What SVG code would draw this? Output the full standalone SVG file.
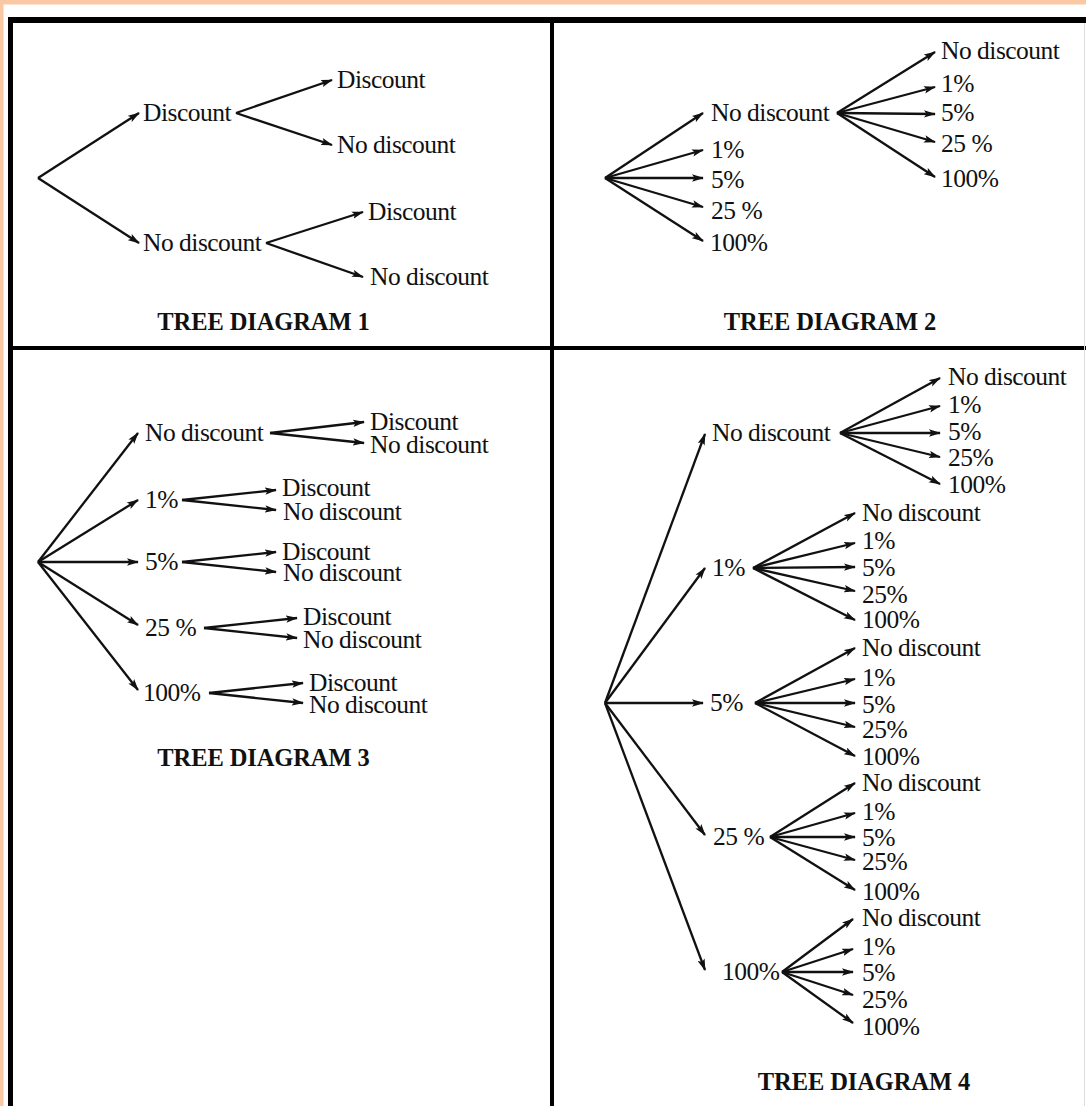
<svg xmlns="http://www.w3.org/2000/svg" width="1086" height="1106" viewBox="0 0 1086 1106">
<style>
  text { font-family: "Liberation Serif", "Times New Roman", serif; fill: #111; }
  .lbl { font-size: 25.5px; letter-spacing: -0.5px; }
  .ttl { font-size: 24.5px; font-weight: bold; text-anchor: middle; letter-spacing: -0.1px; }
  .ln { stroke: #111; stroke-width: 2.3; fill: none; marker-end: url(#ah); }
  .frame { stroke: #000; fill: none; }
</style>
<defs>
  <marker id="ah" markerUnits="userSpaceOnUse" markerWidth="12" markerHeight="8" refX="11" refY="4" orient="auto">
    <path d="M0,0.3 L12,4 L0,7.7 L2.5,4 Z" fill="#111"/>
  </marker>
</defs>
<rect x="0" y="0" width="1086" height="1106" fill="#ffffff"/>
<rect x="0" y="0" width="1086" height="4.5" fill="#fbc8a4"/>
<rect x="0" y="0" width="3.5" height="1106" fill="#fbc8a4"/>
<g id="frame">
  <line class="frame" x1="8" y1="20" x2="1086" y2="20" stroke-width="6"/>
  <line class="frame" x1="10.5" y1="17" x2="10.5" y2="1106" stroke-width="5"/>
  <line class="frame" x1="552" y1="20" x2="552" y2="1106" stroke-width="4"/>
  <line class="frame" x1="10" y1="348" x2="1086" y2="348" stroke-width="4"/>
  <line x1="1084.5" y1="23" x2="1084.5" y2="1106" stroke="#dddddd" stroke-width="1"/>
</g>

<g id="connectors">
  <!-- Tree 1 -->
  <line class="ln" x1="38" y1="178" x2="139" y2="113"/>
  <line class="ln" x1="38" y1="178" x2="139" y2="243"/>
  <line class="ln" x1="236" y1="113" x2="332" y2="80"/>
  <line class="ln" x1="236" y1="113" x2="332" y2="145"/>
  <line class="ln" x1="266" y1="243" x2="363" y2="212"/>
  <line class="ln" x1="266" y1="243" x2="363" y2="277"/>
  <!-- Tree 2 -->
  <line class="ln" x1="605" y1="178" x2="703" y2="113"/>
  <line class="ln" x1="605" y1="178" x2="703" y2="150"/>
  <line class="ln" x1="605" y1="178" x2="703" y2="178"/>
  <line class="ln" x1="605" y1="178" x2="703" y2="207"/>
  <line class="ln" x1="605" y1="178" x2="703" y2="241"/>
  <line class="ln" x1="837" y1="113" x2="935" y2="52"/>
  <line class="ln" x1="837" y1="113" x2="935" y2="87"/>
  <line class="ln" x1="837" y1="113" x2="935" y2="114"/>
  <line class="ln" x1="837" y1="113" x2="935" y2="142"/>
  <line class="ln" x1="837" y1="113" x2="935" y2="177"/>
  <!-- Tree 3 -->
  <line class="ln" x1="38" y1="562" x2="138" y2="433"/>
  <line class="ln" x1="38" y1="562" x2="138" y2="500"/>
  <line class="ln" x1="38" y1="562" x2="138" y2="562"/>
  <line class="ln" x1="38" y1="562" x2="138" y2="625"/>
  <line class="ln" x1="38" y1="562" x2="138" y2="690"/>
  <line class="ln" x1="270" y1="433" x2="364" y2="422"/>
  <line class="ln" x1="270" y1="433" x2="364" y2="443"/>
  <line class="ln" x1="182" y1="500" x2="276" y2="490"/>
  <line class="ln" x1="182" y1="500" x2="276" y2="510"/>
  <line class="ln" x1="182" y1="562" x2="276" y2="552"/>
  <line class="ln" x1="182" y1="562" x2="276" y2="572"/>
  <line class="ln" x1="204" y1="628" x2="297" y2="618"/>
  <line class="ln" x1="204" y1="628" x2="297" y2="638"/>
  <line class="ln" x1="209" y1="693" x2="303" y2="683"/>
  <line class="ln" x1="209" y1="693" x2="303" y2="703"/>
  <!-- Tree 4 -->
  <line class="ln" x1="605" y1="703" x2="705" y2="434"/>
  <line class="ln" x1="605" y1="703" x2="705" y2="568"/>
  <line class="ln" x1="605" y1="703" x2="703" y2="703"/>
  <line class="ln" x1="605" y1="703" x2="705" y2="835"/>
  <line class="ln" x1="605" y1="703" x2="705" y2="970"/>
  <line class="ln" x1="840" y1="433" x2="940" y2="378"/>
  <line class="ln" x1="840" y1="433" x2="940" y2="406"/>
  <line class="ln" x1="840" y1="433" x2="940" y2="433"/>
  <line class="ln" x1="840" y1="433" x2="940" y2="457"/>
  <line class="ln" x1="840" y1="433" x2="940" y2="484"/>
  <line class="ln" x1="753" y1="568" x2="855" y2="513"/>
  <line class="ln" x1="753" y1="568" x2="855" y2="543"/>
  <line class="ln" x1="753" y1="568" x2="855" y2="567"/>
  <line class="ln" x1="753" y1="568" x2="855" y2="591"/>
  <line class="ln" x1="753" y1="568" x2="855" y2="620"/>
  <line class="ln" x1="755" y1="703" x2="855" y2="648"/>
  <line class="ln" x1="755" y1="703" x2="855" y2="679"/>
  <line class="ln" x1="755" y1="703" x2="855" y2="703"/>
  <line class="ln" x1="755" y1="703" x2="855" y2="727"/>
  <line class="ln" x1="755" y1="703" x2="855" y2="756"/>
  <line class="ln" x1="770" y1="837" x2="855" y2="783"/>
  <line class="ln" x1="770" y1="837" x2="855" y2="813"/>
  <line class="ln" x1="770" y1="837" x2="855" y2="837"/>
  <line class="ln" x1="770" y1="837" x2="855" y2="860"/>
  <line class="ln" x1="770" y1="837" x2="855" y2="890"/>
  <line class="ln" x1="782" y1="972" x2="853" y2="919"/>
  <line class="ln" x1="782" y1="972" x2="853" y2="949"/>
  <line class="ln" x1="782" y1="972" x2="853" y2="972"/>
  <line class="ln" x1="782" y1="972" x2="853" y2="995"/>
  <line class="ln" x1="782" y1="972" x2="853" y2="1023"/>
</g>

<!-- Tree 1 nodes -->
<g id="t1-discount"><text class="lbl" x="143" y="121">Discount</text></g>
<g id="t1-nodiscount"><text class="lbl" x="143" y="251">No discount</text></g>
<g id="t1-d-discount"><text class="lbl" x="337" y="88">Discount</text></g>
<g id="t1-d-nodiscount"><text class="lbl" x="337" y="153">No discount</text></g>
<g id="t1-n-discount"><text class="lbl" x="368" y="220">Discount</text></g>
<g id="t1-n-nodiscount"><text class="lbl" x="370" y="285">No discount</text></g>
<g id="t1-title"><text class="ttl" x="263.5" y="330">TREE DIAGRAM 1</text></g>

<!-- Tree 2 nodes -->
<g id="t2-nodiscount"><text class="lbl" x="711" y="121">No discount</text></g>
<g id="t2-1"><text class="lbl" x="711" y="158">1%</text></g>
<g id="t2-5"><text class="lbl" x="711" y="188">5%</text></g>
<g id="t2-25"><text class="lbl" x="711" y="219">25 %</text></g>
<g id="t2-100"><text class="lbl" x="710" y="251">100%</text></g>
<g id="t2-n-nodiscount"><text class="lbl" x="941" y="59">No discount</text></g>
<g id="t2-n-1"><text class="lbl" x="941" y="92">1%</text></g>
<g id="t2-n-5"><text class="lbl" x="941" y="121">5%</text></g>
<g id="t2-n-25"><text class="lbl" x="941" y="152">25 %</text></g>
<g id="t2-n-100"><text class="lbl" x="941" y="187">100%</text></g>
<g id="t2-title"><text class="ttl" x="830" y="330">TREE DIAGRAM 2</text></g>

<!-- Tree 3 nodes -->
<g id="t3-nodiscount"><text class="lbl" x="145" y="441">No discount</text></g>
<g id="t3-1"><text class="lbl" x="145" y="508">1%</text></g>
<g id="t3-5"><text class="lbl" x="145" y="570">5%</text></g>
<g id="t3-25"><text class="lbl" x="145" y="636">25 %</text></g>
<g id="t3-100"><text class="lbl" x="143" y="701">100%</text></g>
<g id="t3-n-d"><text class="lbl" x="370" y="430">Discount</text></g>
<g id="t3-n-n"><text class="lbl" x="370" y="453">No discount</text></g>
<g id="t3-1-d"><text class="lbl" x="282" y="496">Discount</text></g>
<g id="t3-1-n"><text class="lbl" x="283" y="520">No discount</text></g>
<g id="t3-5-d"><text class="lbl" x="282" y="560">Discount</text></g>
<g id="t3-5-n"><text class="lbl" x="283" y="581">No discount</text></g>
<g id="t3-25-d"><text class="lbl" x="303" y="625">Discount</text></g>
<g id="t3-25-n"><text class="lbl" x="303" y="648">No discount</text></g>
<g id="t3-100-d"><text class="lbl" x="309" y="691">Discount</text></g>
<g id="t3-100-n"><text class="lbl" x="309" y="713">No discount</text></g>
<g id="t3-title"><text class="ttl" x="263.5" y="766">TREE DIAGRAM 3</text></g>

<!-- Tree 4 nodes -->
<g id="t4-nodiscount"><text class="lbl" x="712" y="441">No discount</text></g>
<g id="t4-1"><text class="lbl" x="712" y="576">1%</text></g>
<g id="t4-5"><text class="lbl" x="710" y="711">5%</text></g>
<g id="t4-25"><text class="lbl" x="713" y="845">25 %</text></g>
<g id="t4-100"><text class="lbl" x="722" y="980">100%</text></g>
<g id="t4-n-children">
  <text class="lbl" x="948" y="385">No discount</text>
  <text class="lbl" x="948" y="413">1%</text>
  <text class="lbl" x="948" y="440">5%</text>
  <text class="lbl" x="948" y="466">25%</text>
  <text class="lbl" x="948" y="493">100%</text>
</g>
<g id="t4-1-children">
  <text class="lbl" x="862" y="521">No discount</text>
  <text class="lbl" x="862" y="549">1%</text>
  <text class="lbl" x="862" y="576">5%</text>
  <text class="lbl" x="862" y="603">25%</text>
  <text class="lbl" x="862" y="628">100%</text>
</g>
<g id="t4-5-children">
  <text class="lbl" x="862" y="656">No discount</text>
  <text class="lbl" x="862" y="686">1%</text>
  <text class="lbl" x="862" y="713">5%</text>
  <text class="lbl" x="862" y="738">25%</text>
  <text class="lbl" x="862" y="765">100%</text>
</g>
<g id="t4-25-children">
  <text class="lbl" x="862" y="791">No discount</text>
  <text class="lbl" x="862" y="820">1%</text>
  <text class="lbl" x="862" y="846">5%</text>
  <text class="lbl" x="862" y="870">25%</text>
  <text class="lbl" x="862" y="900">100%</text>
</g>
<g id="t4-100-children">
  <text class="lbl" x="862" y="926">No discount</text>
  <text class="lbl" x="862" y="955">1%</text>
  <text class="lbl" x="862" y="981">5%</text>
  <text class="lbl" x="862" y="1008">25%</text>
  <text class="lbl" x="862" y="1035">100%</text>
</g>
<g id="t4-title"><text class="ttl" x="864" y="1090">TREE DIAGRAM 4</text></g>
</svg>
